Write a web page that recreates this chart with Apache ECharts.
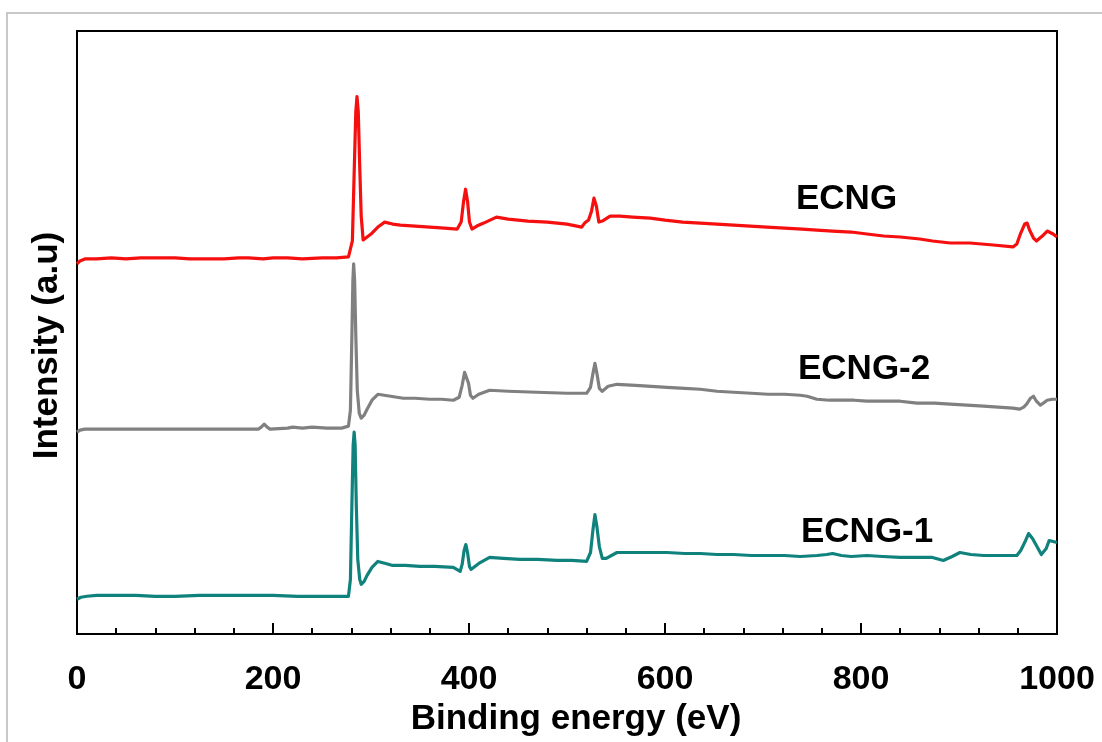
<!DOCTYPE html>
<html>
<head>
<meta charset="utf-8">
<script src="https://cdn.jsdelivr.net/npm/echarts@6/dist/echarts.min.js"></script>
<style>
html,body{margin:0;padding:0;background:#fff;}
#chart{width:1102px;height:742px;}
</style>
</head>
<body>
<div id="chart"></div>
<script>
// Binding energy (eV) / intensity (a.u.) pairs
const ecng = [
  [0,372],[3,375],[8,377],[20,377],[35,378],[50,377],[65,378],[80,378],[100,378],[115,377],[130,377],[150,377],[165,378],
  [175,378],[190,377],[200,378],[215,378],[230,377],[250,378],[265,378],[277,379],
  [279,381],[281,395],[283,470],[284.5,525],[285.7,540],[287,525],[288.5,470],[290,420],[292,396],[294,394],
  [300,402],[307,409],[314,414],[322,412],[330,411],[345,410],[360,409],[375,408],[388,407],
  [392,414],[394.5,435],[396.5,447],[398.5,435],[400.5,414],[403,407],[408,410],[415,413],[428,419],[440,417],
  [460,415],[480,414],[500,412],[515,409],[518,413],[522,416],[525,425],[527.5,438],[530,430],[532.5,414],
  [536,415],[544,420],[554,420],[567,419],[585,418],[600,416],[618,414],[636,413],[653,412],[670,411],[687,410],
  [704,409],[722,408],[740,407],[755,406],[771,405],[790,404],[806,402],[823,400],[840,399],[860,397],[873,395],
  [891,393],[911,393],[935,391],[955,389],[959,392],[963,403],[967,412],[969.5,413],[972,406],[976,398],[979,395],
  [985,400],[990,405],[996,402],[1000,399]
];
const ecng2 = [
  [0,203],[3,205],[8,206],[50,206],[100,206],[150,206],[185,206],[188,208],[191,211],[194,208],[197,206],[215,207],
  [220,208],[230,207],[240,208],[255,207],[270,207],[277,209],
  [279,225],[280.5,300],[281.5,355],[282.3,372],[283.3,355],[284.5,300],[286,245],[288,222],[290,217],[293,220],
  [296,226],[301,235],[307,241],[320,239],[333,237],[345,237],[360,236],[372,236],[384,235],[390,238],
  [393,250],[395.5,263],[397.5,265],[399.5,252],[401.5,240],[404,237],[410,241],[421,245],[440,244],[469,243],
  [500,242],[520,242],[524,248],[526.5,262],[528.5,272],[530.5,262],[533,247],[536,244],[542,249],[551,251],
  [570,250],[586,249],[602,248],[620,247],[636,246],[653,244],[670,243],[688,242],[705,241],[722,241],[738,240],
  [745,239],[755,236],[768,235],[780,235],[793,235],[806,234],[825,234],[840,234],[857,232],[875,232],[891,231],
  [908,230],[925,229],[940,228],[955,227],[962,226],[966,228],[969,231],[973,237],[976,239],[979,234],[983,230],
  [990,235],[995,236],[1000,236]
];
const ecng1 = [
  [0,35],[4,37],[10,38],[20,39],[40,39],[60,39],[80,38],[100,38],[125,39],[150,39],[175,39],[200,39],[225,38],
  [250,38],[265,38],[277,38],
  [279,55],[280.5,130],[281.8,190],[282.8,203],[283.8,190],[285,130],[286.5,75],[288.5,55],[290,50],[293,53],
  [296,59],[301,67],[307,73],[315,71],[322,69],[335,69],[350,68],[365,68],[384,67],[391,63],
  [393,70],[395,84],[396.8,90],[398.5,82],[400.5,68],[402,65],[406,68],[410,71],[421,77],[435,76],[452,75],
  [470,75],[490,74],[505,74],[520,73],[524,82],[526.5,105],[528.5,120],[530.5,108],[533,88],[536,76],[540,76],
  [551,82],[563,82],[575,82],[590,82],[602,82],[620,81],[636,81],[653,80],[670,80],[688,79],[705,79],[722,79],
  [738,78],[755,79],[765,80],[771,81],[780,79],[790,78],[806,79],[822,78],[840,77],[857,77],[873,77],[884,74],
  [893,78],[901,82],[912,80],[925,79],[940,79],[959,79],[963,84],[967,92],[971,101],[975,96],[979,89],[984,80],
  [986,78],[989,86],[992,94],[996,93],[1000,92]
];
const seriesNames = ['ECNG', 'ECNG-2', 'ECNG-1'];
const xTicks = [0, 200, 400, 600, 800, 1000];

const FONT = '"Liberation Sans", Arial, Helvetica, sans-serif';
const chart = echarts.init(document.getElementById('chart'));
const colors = ['#f50f0f', '#808080', '#10827e'];
const labelPos = [[796, 182], [798, 352], [801, 515]];

chart.setOption({
  backgroundColor: '#fff',
  animation: false,
  grid: {left: 77, right: 45, top: 31, bottom: 105, show: true, borderColor: '#000', borderWidth: 2, backgroundColor: 'transparent'},
  xAxis: {
    type: 'value', min: xTicks[0], max: xTicks[xTicks.length - 1], interval: 200,
    axisLine: {show: true, lineStyle: {color: '#000', width: 2}},
    axisTick: {show: true, inside: true, length: 11, lineStyle: {color: '#000', width: 2}},
    minorTick: {show: true, splitNumber: 5, length: 6, lineStyle: {color: '#000', width: 2}},
    splitLine: {show: false},
    axisLabel: {fontFamily: FONT, fontWeight: 'bold', fontSize: 34, color: '#000', margin: 29,
      formatter: v => String(v)},
    name: 'Binding energy (eV)', nameLocation: 'middle', nameGap: 63,
    nameTextStyle: {fontFamily: FONT, fontWeight: 'bold', fontSize: 35, color: '#000', padding: [0, 0, 0, 18]}
  },
  yAxis: {
    type: 'value', min: 0, max: 606,
    axisLine: {show: true, lineStyle: {color: '#000', width: 2}},
    axisTick: {show: false}, axisLabel: {show: false}, splitLine: {show: false},
    name: 'Intensity (a.u)', nameLocation: 'middle', nameGap: 12, nameRotate: 90,
    nameTextStyle: {fontFamily: FONT, fontWeight: 'bold', fontSize: 35, color: '#000', padding: [0, 26, 0, 0]}
  },
  series: [ecng, ecng2, ecng1].map((d, i) => ({
    name: seriesNames[i], type: 'line', data: d, showSymbol: false, symbol: 'none',
    lineStyle: {color: colors[i], width: 3.2, join: 'round'}, z: 3 - i
  })),
  graphic: [
    {type: 'rect', z: -10, silent: true, shape: {x: 7, y: 13, width: 1300, height: 900},
     style: {fill: 'none', stroke: '#c8c8c8', lineWidth: 2}},
    ...seriesNames.map((n, i) => ({
      type: 'text', left: labelPos[i][0], top: labelPos[i][1],
      style: {text: n, fontFamily: FONT, fontWeight: 'bold', fontSize: 35, fill: '#000'}
    }))
  ]
});
</script>
</body>
</html>
